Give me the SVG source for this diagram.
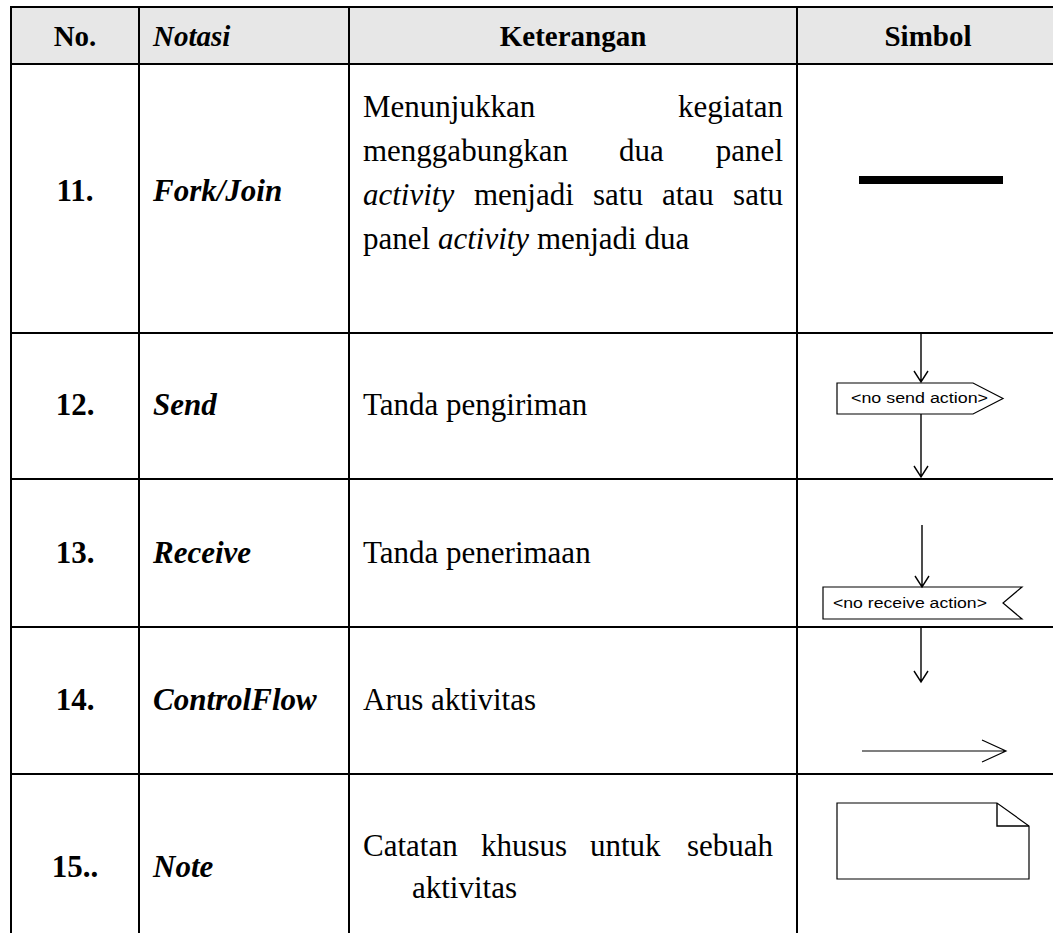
<svg xmlns="http://www.w3.org/2000/svg" width="1053" height="933" viewBox="0 0 1053 933">
<style>
.grid{stroke:#000;stroke-width:2;fill:none}
.h{font-family:"Liberation Serif","Times New Roman",serif;font-weight:bold;font-size:29px;fill:#000}
.hi{font-style:italic}
.n{font-family:"Liberation Serif","Times New Roman",serif;font-weight:bold;font-size:31px;fill:#000}
.nb{font-family:"Liberation Serif","Times New Roman",serif;font-weight:bold;font-style:italic;font-size:31px;fill:#000}
.t{font-family:"Liberation Serif","Times New Roman",serif;font-size:31px;fill:#000}
.it{font-style:italic}
.s{font-family:"Liberation Sans",Arial,sans-serif;font-size:14px;fill:#000}
.line{stroke:#000;stroke-width:1.4;fill:none}
.shape{stroke:#000;stroke-width:1.2;fill:#fff}
</style>
<rect x="0" y="0" width="1053" height="933" fill="#fff"/>
<g id="header">
<rect x="11" y="7" width="1042" height="57" fill="#e7e7e7"/>
<text class="h" x="75" y="46" text-anchor="middle">No.</text>
<text class="h hi" x="153" y="46">Notasi</text>
<text class="h" x="573" y="46" text-anchor="middle">Keterangan</text>
<text class="h" x="928" y="46" text-anchor="middle">Simbol</text>
</g>
<g id="grid" class="grid">
<line x1="10" y1="7" x2="1053" y2="7"/>
<line x1="10" y1="64" x2="1053" y2="64"/>
<line x1="10" y1="333" x2="1053" y2="333"/>
<line x1="10" y1="479" x2="1053" y2="479"/>
<line x1="10" y1="627" x2="1053" y2="627"/>
<line x1="10" y1="774" x2="1053" y2="774"/>
<line x1="11" y1="6" x2="11" y2="933"/>
<line x1="139" y1="6" x2="139" y2="933"/>
<line x1="349" y1="6" x2="349" y2="933"/>
<line x1="797" y1="6" x2="797" y2="933"/>
</g>
<g id="row-11">
<text class="n" x="75" y="201" text-anchor="middle">11.</text>
<text class="nb" x="153" y="201">Fork/Join</text>
<text class="t" y="117"><tspan x="363">Menunjukkan</tspan><tspan x="783" text-anchor="end">kegiatan</tspan></text>
<text class="t" y="161"><tspan x="363">menggabungkan</tspan><tspan x="619">dua</tspan><tspan x="783" text-anchor="end">panel</tspan></text>
<text class="t" y="205"><tspan x="363" class="it">activity</tspan><tspan x="474">menjadi</tspan><tspan x="593">satu</tspan><tspan x="662">atau</tspan><tspan x="783" text-anchor="end">satu</tspan></text>
<text class="t" x="363" y="249">panel <tspan class="it">activity</tspan> menjadi dua</text>
<rect id="fork-bar" x="859" y="176" width="144" height="8" fill="#000"/>
</g>
<g id="row-12">
<text class="n" x="75" y="415" text-anchor="middle">12.</text>
<text class="nb" x="153" y="415">Send</text>
<text class="t" x="363" y="415">Tanda pengiriman</text>
<polygon class="shape" points="837,383 973,383 1003,398.5 973,414 837,414"/>
<text class="s" x="851" y="403" textLength="137" lengthAdjust="spacingAndGlyphs">&lt;no send action&gt;</text>
</g>
<g id="row-13">
<text class="n" x="75" y="563" text-anchor="middle">13.</text>
<text class="nb" x="153" y="563">Receive</text>
<text class="t" x="363" y="563">Tanda penerimaan</text>
<polygon class="shape" points="823,587 1022,587 1003,603 1022,619 823,619"/>
<text class="s" x="833" y="608" textLength="154" lengthAdjust="spacingAndGlyphs">&lt;no receive action&gt;</text>
</g>
<g id="row-14">
<text class="n" x="75" y="710" text-anchor="middle">14.</text>
<text class="nb" x="153" y="710">ControlFlow</text>
<text class="t" x="363" y="710">Arus aktivitas</text>
</g>
<g id="row-15">
<text class="n" x="75" y="877" text-anchor="middle">15..</text>
<text class="nb" x="153" y="877">Note</text>
<text class="t" y="856"><tspan x="363">Catatan</tspan><tspan x="481">khusus</tspan><tspan x="590">untuk</tspan><tspan x="773" text-anchor="end">sebuah</tspan></text>
<text class="t" x="412" y="898">aktivitas</text>
<path class="shape" d="M837,803 L997,803 L1029,826 L1029,879 L837,879 Z"/>
<path class="line" d="M997,803 L997,826 L1029,826" stroke-width="1.2"/>
</g>
<g id="connectors" class="line">
<path d="M921,334 V382 M914,371 L921,382 L928,371"/>
<path d="M921,414 V477 M914,466 L921,477 L928,466"/>
<path d="M922,525 V587 M915,576 L922,587 L929,576"/>
<path d="M921,628 V682 M914,671 L921,682 L928,671"/>
<path d="M862,751 H1006 M982,740 L1006,751 L982,762" stroke-width="1.2"/>
</g>
</svg>
